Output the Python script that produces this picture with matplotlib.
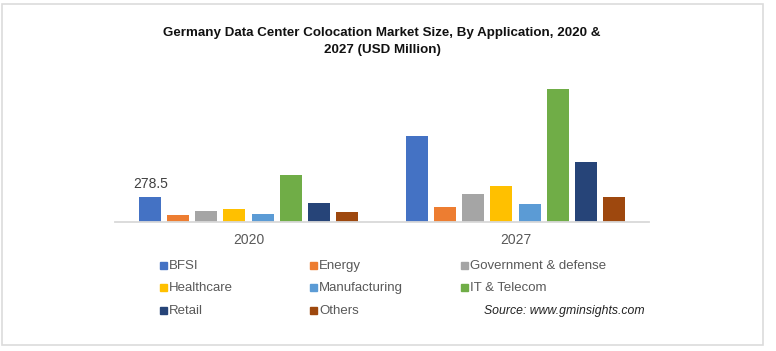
import matplotlib.pyplot as plt
from matplotlib.patches import Rectangle
import numpy as np

# данные
years = ['2020', '2027']
categories = ['BFSI', 'Energy', 'Government & defense', 'Healthcare',
              'Manufacturing', 'IT & Telecom', 'Retail', 'Others']
values_2020 = [278.5, 78, 122, 145, 89, 523, 212, 111]
values_2027 = [955, 167, 312, 400, 200, 1480, 668, 278]
colors = ['#4472C4', '#ED7D31', '#A5A5A5', '#FFC000',
          '#5B9BD5', '#70AD47', '#264478', '#9E480E']

W, H = 776, 351
fig = plt.figure(figsize=(W / 100, H / 100), dpi=100)
fig.patch.set_facecolor('white')

# рамка вокруг рисунка
fig.patches.append(Rectangle((2 / W, 1 - 345 / H), 761 / W, 341 / H,
                             transform=fig.transFigure, fill=False,
                             edgecolor='#dcdcdc', linewidth=1.2))

ax = fig.add_axes([115 / W, (H - 222) / H, 534 / W, 150 / H])

x = np.arange(len(years))
pitch = 0.105
width = 0.0824
data = np.array([values_2020, values_2027])
for i, cat in enumerate(categories):
    ax.bar(x + (i - 3.5) * pitch, data[:, i], width=width, color=colors[i], label=cat)

# подпись значения над первым столбцом
ax.text(x[0] - 3.5 * pitch, values_2020[0] + 70, '278.5', ha='center', va='bottom',
        fontsize=10, color='#404040', family=['Liberation Sans', 'DejaVu Sans'])

ax.set_xlim(-0.5, 1.5)
ax.set_ylim(0, 1670)
ax.set_xticks(x)
ax.set_xticklabels(years, fontsize=10, color='#595959', family=['Liberation Sans', 'DejaVu Sans'])
ax.tick_params(axis='x', length=0, pad=8)
ax.set_yticks([])
for s in ['top', 'right', 'left']:
    ax.spines[s].set_visible(False)
ax.spines['bottom'].set_color('#d9d9d9')
ax.spines['bottom'].set_linewidth(1.3)

# заголовок
title_font = dict(ha='center', va='center', fontsize=9.6, fontweight='bold',
                  family=['Liberation Sans', 'DejaVu Sans'], color='#111111')
fig.text(382 / W, 1 - 33 / H,
         'Germany Data Center Colocation Market Size, By Application, 2020 &', **title_font)
fig.text(382 / W, 1 - 50 / H, '2027 (USD Million)', **title_font)

# легенда (3 колонки)
col_x = [164, 314, 465]
row_y = [266, 288, 311]
for i, cat in enumerate(categories):
    cx = col_x[i % 3]
    cy = row_y[i // 3]
    fig.patches.append(Rectangle(((cx - 4) / W, 1 - (cy + 3) / H), 7 / W, 7 / H,
                                 transform=fig.transFigure, color=colors[i]))
    fig.text((cx + 5) / W, 1 - cy / H, cat, ha='left', va='center',
             fontsize=9.5, color='#595959', family=['Liberation Sans', 'DejaVu Sans'])

fig.text(645 / W, 1 - 311 / H, 'Source: www.gminsights.com', ha='right', va='center',
         fontsize=8.8, style='italic', color='#222222', family=['Liberation Sans', 'DejaVu Sans'])

fig.savefig('out.png', dpi=100)
